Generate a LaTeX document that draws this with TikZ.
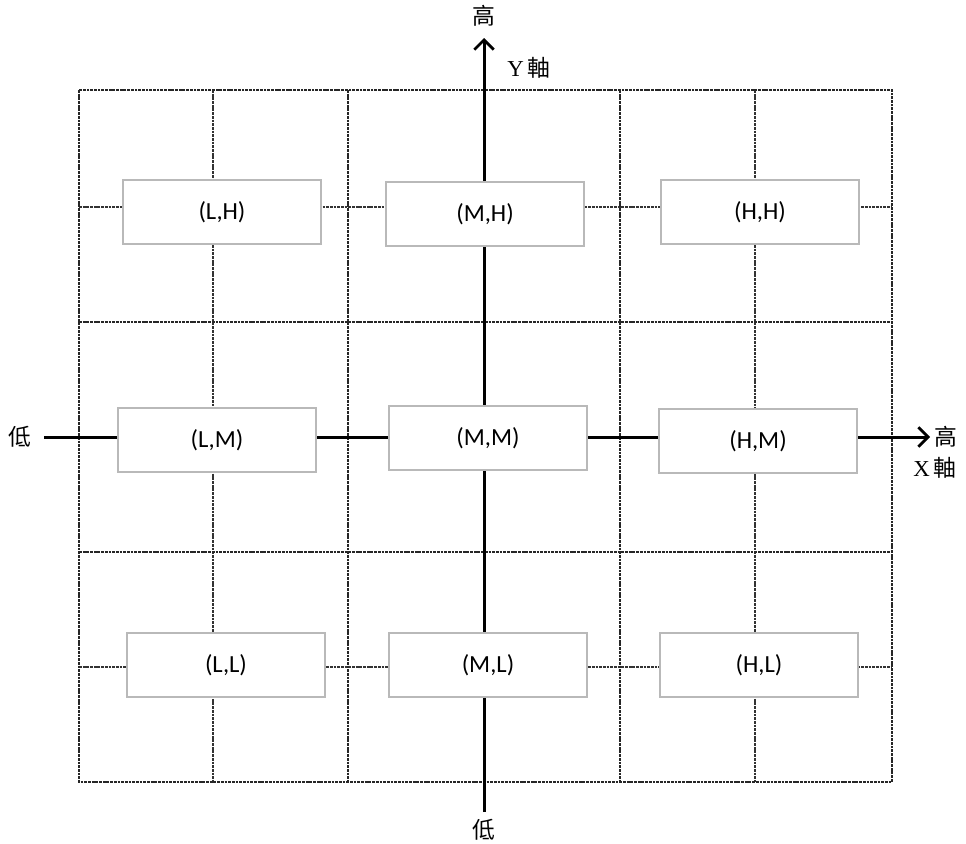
\documentclass[tikz,border=0pt]{standalone}
\usepackage{fontspec}
\setmainfont{Liberation Serif}
\newfontfamily\cjk{Noto Sans CJK TC}
\newfontfamily\boxfont{Carlito}
\usetikzlibrary{arrows.meta}

\begin{document}
\begin{tikzpicture}[
  x=0.02cm, y=-0.02cm,
  >={Straight Barb[length=5.5pt,width=11pt,line width=1.6pt]},
  cell/.style={draw=gray!55, fill=white, line width=0.7pt,
               minimum width=3.96cm, minimum height=1.28cm,
               font=\boxfont\fontsize{14}{16}\selectfont},
  grid/.style={draw=black!85, line width=0.8pt, dash pattern=on 1.6pt off 0.5pt},
  subgrid/.style={draw=black!80, line width=0.7pt, dash pattern=on 1.6pt off 0.5pt},
  axis/.style={line width=1.7pt},
  lbl/.style={font=\fontsize{13}{15}\selectfont, inner sep=1pt},
]
\useasboundingbox (0,0) rectangle (966,843);

% Grid
\draw[subgrid] (213,90) -- (213,782);
\draw[subgrid] (755,90) -- (755,782);
\draw[subgrid] (79,207) -- (892,207);
\draw[subgrid] (79,667) -- (892,667);
\draw[grid] (348,90) -- (348,782);
\draw[grid] (620,90) -- (620,782);
\draw[grid] (79,322) -- (892,322);
\draw[grid] (79,552) -- (892,552);
\draw[grid] (79,90) rectangle (892,782);

% Axes
\coordinate (xs) at (44,437);
\coordinate (xe) at (930,437);
\coordinate (ys) at (484,812);
\coordinate (ye) at (484,38);
\draw[axis, ->] (xs) -- (xe);
\draw[axis, ->] (ys) -- (ye);

\node[lbl] (xlow)  at (20,437)  {\cjk 低};
\node[lbl] (xhigh) at (946,437) {\cjk 高};
\node[lbl] (xname) at (935,468) {X\,{\cjk 軸}};
\node[lbl] (ylow)  at (484,830) {\cjk 低};
\node[lbl] (yhigh) at (484,16)  {\cjk 高};
\node[lbl] (yname) at (529,68)  {Y\,{\cjk 軸}};

% Boxes
\node[cell] (lh) at (222,212) {(L,H)};
\node[cell] (mh) at (485,214) {(M,H)};
\node[cell] (hh) at (760,212) {(H,H)};
\node[cell] (lm) at (217,440) {(L,M)};
\node[cell] (mm) at (488,438) {(M,M)};
\node[cell] (hm) at (758,441) {(H,M)};
\node[cell] (ll) at (226,665) {(L,L)};
\node[cell] (ml) at (488,665) {(M,L)};
\node[cell] (hl) at (759,665) {(H,L)};
\end{tikzpicture}
\end{document}
